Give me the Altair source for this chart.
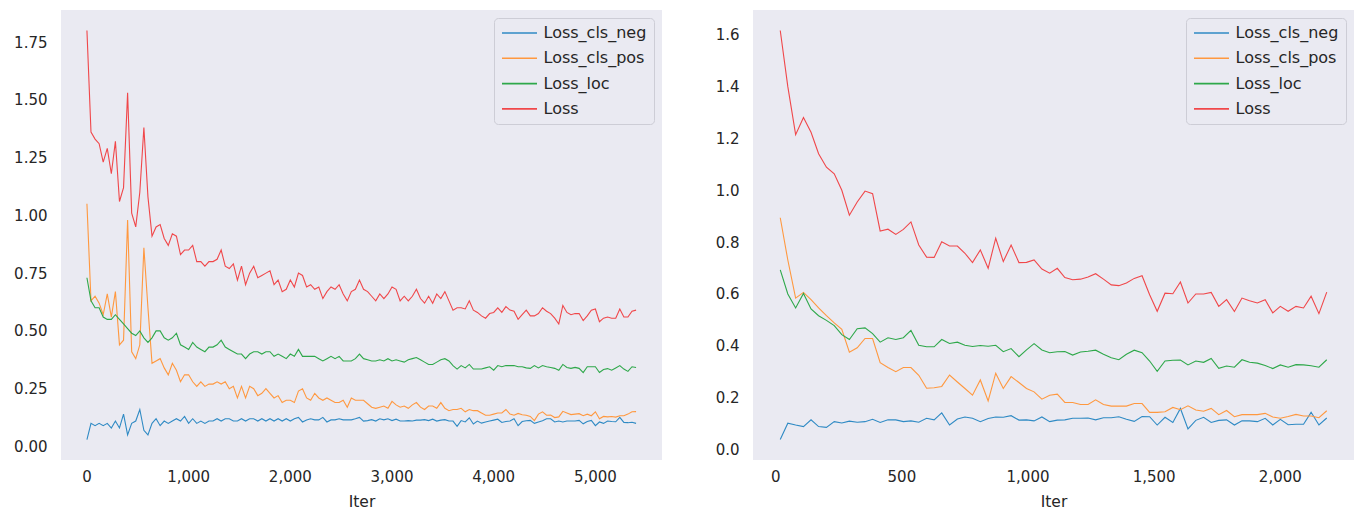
import altair as alt
import pandas as pd

series_names = ["Loss_cls_neg", "Loss_cls_pos", "Loss_loc", "Loss"]
series_colors = ["#2f8ac4", "#ff983f", "#2ea84a", "#f0474a"]

# ---------------- left panel (longer run) ----------------
left_iter = [5 + 40 * i for i in range(136)]

left_neg = [
    0.03, 0.10, 0.09, 0.10, 0.09, 0.10, 0.08, 0.11, 0.08, 0.14, 0.05, 0.10, 0.11, 0.16, 0.07, 0.05,
    0.10, 0.12, 0.09, 0.11, 0.10, 0.11, 0.12, 0.11, 0.13, 0.10, 0.12, 0.10, 0.11, 0.10, 0.11, 0.11,
    0.12, 0.11, 0.12, 0.12, 0.11, 0.11, 0.12, 0.11, 0.12, 0.12, 0.11, 0.12, 0.11, 0.12, 0.11, 0.12,
    0.11, 0.12, 0.11, 0.12, 0.126, 0.106, 0.115, 0.12, 0.115, 0.115, 0.126, 0.106, 0.115, 0.115, 0.12,
    0.115, 0.115, 0.115, 0.12, 0.126, 0.11,
    0.112, 0.116, 0.11, 0.12, 0.115, 0.12, 0.112, 0.118, 0.11, 0.11, 0.112, 0.11, 0.114, 0.114, 0.116,
    0.112, 0.118, 0.11, 0.114, 0.116, 0.11, 0.11, 0.087, 0.112, 0.106, 0.124, 0.097, 0.11, 0.101, 0.106,
    0.11, 0.114, 0.118, 0.104, 0.108, 0.11, 0.12,
    0.09, 0.108, 0.111, 0.113, 0.10, 0.106, 0.111, 0.12, 0.12, 0.106, 0.11, 0.106, 0.11, 0.11, 0.11,
    0.113, 0.098, 0.108, 0.113, 0.09, 0.106, 0.10, 0.11, 0.108, 0.107, 0.126, 0.104, 0.103, 0.105, 0.10,
]
left_pos = [
    1.05, 0.63, 0.65, 0.62, 0.57, 0.66, 0.56, 0.67, 0.44, 0.46, 0.98, 0.41, 0.38, 0.44, 0.86, 0.60,
    0.36, 0.37, 0.38, 0.34, 0.31, 0.36, 0.33, 0.28, 0.31, 0.31, 0.28, 0.26, 0.28, 0.26, 0.27, 0.27,
    0.28, 0.27, 0.28, 0.25, 0.26, 0.21, 0.26, 0.21, 0.26, 0.25, 0.22, 0.23, 0.25, 0.23, 0.21, 0.22,
    0.19, 0.20, 0.20, 0.19, 0.24, 0.25, 0.21, 0.20, 0.23, 0.21, 0.20, 0.21, 0.20, 0.19, 0.19, 0.20,
    0.17, 0.21, 0.20, 0.20, 0.20,
    0.185, 0.17, 0.165, 0.17, 0.175, 0.165, 0.195, 0.18, 0.17, 0.175, 0.165, 0.18, 0.19, 0.17, 0.16,
    0.175, 0.175, 0.165, 0.19, 0.165, 0.155, 0.16, 0.16, 0.165, 0.15, 0.16, 0.155, 0.155, 0.145, 0.135,
    0.135, 0.14, 0.145, 0.145, 0.16, 0.14, 0.135,
    0.143, 0.137, 0.135, 0.13, 0.112, 0.14, 0.15, 0.135, 0.136, 0.125, 0.128, 0.152, 0.145, 0.138, 0.14,
    0.142, 0.133, 0.14, 0.133, 0.15, 0.12, 0.13, 0.128, 0.13, 0.127, 0.133, 0.133, 0.14, 0.15, 0.151,
]
left_loc = [
    0.73, 0.63, 0.60, 0.60, 0.56, 0.55, 0.55, 0.57, 0.55, 0.53, 0.51, 0.49, 0.48, 0.50, 0.47, 0.45,
    0.47, 0.50, 0.50, 0.47, 0.46, 0.47, 0.49, 0.44, 0.43, 0.42, 0.45, 0.43, 0.42, 0.41, 0.43, 0.43,
    0.44, 0.46, 0.43, 0.42, 0.41, 0.40, 0.40, 0.38, 0.40, 0.41, 0.41, 0.40, 0.41, 0.41, 0.39, 0.40,
    0.39, 0.38, 0.40, 0.39, 0.42, 0.39, 0.39, 0.39, 0.39, 0.38, 0.37, 0.38, 0.39, 0.38, 0.39, 0.37,
    0.37, 0.37, 0.38, 0.40, 0.38,
    0.375, 0.37, 0.37, 0.375, 0.37, 0.38, 0.37, 0.375, 0.37, 0.365, 0.375, 0.38, 0.385, 0.375, 0.365,
    0.355, 0.355, 0.365, 0.375, 0.38, 0.37, 0.35, 0.335, 0.35, 0.34, 0.355, 0.335, 0.335, 0.335, 0.34,
    0.345, 0.33, 0.35, 0.345, 0.35, 0.35, 0.35,
    0.345, 0.345, 0.34, 0.338, 0.35, 0.34, 0.35, 0.345, 0.342, 0.338, 0.33, 0.355, 0.342, 0.338, 0.342,
    0.338, 0.32, 0.345, 0.345, 0.345, 0.32, 0.333, 0.337, 0.33, 0.34, 0.35, 0.335, 0.325, 0.345, 0.342,
]
left_loss = [
    1.80, 1.36, 1.33, 1.31, 1.23, 1.29, 1.18, 1.32, 1.06, 1.12, 1.53, 1.01, 0.95, 1.10, 1.38, 1.08,
    0.91, 0.95, 0.96, 0.90, 0.87, 0.92, 0.91, 0.83, 0.85, 0.85, 0.87, 0.80, 0.80, 0.78, 0.80, 0.80,
    0.81, 0.85, 0.78, 0.77, 0.79, 0.72, 0.78, 0.70, 0.75, 0.78, 0.73, 0.74, 0.75, 0.76, 0.70, 0.72,
    0.67, 0.68, 0.72, 0.69, 0.75, 0.74, 0.69, 0.70, 0.68, 0.69, 0.64, 0.67, 0.69, 0.68, 0.70, 0.66,
    0.63, 0.67, 0.68, 0.72, 0.68,
    0.67, 0.65, 0.63, 0.66, 0.64, 0.66, 0.69, 0.68, 0.63, 0.65, 0.63, 0.65, 0.68, 0.64, 0.62, 0.65,
    0.62, 0.66, 0.64, 0.67, 0.63, 0.59, 0.60, 0.60, 0.595, 0.63, 0.59, 0.58, 0.565, 0.555, 0.575, 0.58,
    0.60, 0.58, 0.605, 0.59, 0.585,
    0.55, 0.57, 0.59, 0.565, 0.565, 0.575, 0.60, 0.585, 0.575, 0.555, 0.53, 0.61, 0.58, 0.57, 0.575,
    0.575, 0.545, 0.565, 0.59, 0.595, 0.54, 0.555, 0.56, 0.555, 0.555, 0.595, 0.56, 0.56, 0.585, 0.59,
]

# ---------------- right panel (shorter run) ----------------
right_iter = [round(20 + 30.5 * i) for i in range(72)]

right_neg = [
    0.038, 0.101, 0.094, 0.088, 0.114, 0.088, 0.085, 0.107, 0.102, 0.109, 0.105, 0.107, 0.116, 0.104,
    0.114, 0.114, 0.107, 0.110, 0.105, 0.120, 0.114, 0.141, 0.094, 0.117, 0.125, 0.120, 0.107, 0.119,
    0.125, 0.124, 0.130, 0.113, 0.114, 0.110, 0.125, 0.107, 0.113,
    0.114, 0.120, 0.120, 0.121, 0.114, 0.122, 0.122, 0.126, 0.116, 0.108, 0.127, 0.126, 0.094, 0.124,
    0.104, 0.158, 0.079, 0.112, 0.124, 0.104, 0.112, 0.114, 0.094, 0.110, 0.110, 0.107, 0.120, 0.094,
    0.116, 0.095, 0.097, 0.097, 0.143, 0.094, 0.121,
]
right_pos = [
    0.894, 0.731, 0.584, 0.606, 0.578, 0.546, 0.516, 0.488, 0.463, 0.375, 0.392, 0.428, 0.428, 0.335,
    0.316, 0.300, 0.316, 0.316, 0.286, 0.236, 0.238, 0.243, 0.287, 0.260, 0.235, 0.209, 0.268, 0.187,
    0.294, 0.235, 0.281, 0.258, 0.235, 0.222, 0.194, 0.209, 0.213,
    0.181, 0.181, 0.173, 0.173, 0.191, 0.173, 0.167, 0.167, 0.167, 0.177, 0.177, 0.143, 0.143, 0.145,
    0.162, 0.153, 0.168, 0.152, 0.147, 0.158, 0.134, 0.150, 0.126, 0.134, 0.134, 0.134, 0.139, 0.125,
    0.120, 0.127, 0.135, 0.129, 0.129, 0.122, 0.149,
]
right_loc = [
    0.693, 0.600, 0.546, 0.602, 0.542, 0.516, 0.498, 0.478, 0.443, 0.424, 0.466, 0.469, 0.447, 0.414,
    0.431, 0.424, 0.431, 0.459, 0.402, 0.396, 0.396, 0.424, 0.409, 0.414, 0.402, 0.397, 0.401, 0.398,
    0.402, 0.377, 0.389, 0.358, 0.384, 0.408, 0.384, 0.373, 0.377,
    0.378, 0.364, 0.376, 0.379, 0.383, 0.367, 0.354, 0.346, 0.367, 0.383, 0.373, 0.341, 0.301, 0.341,
    0.344, 0.345, 0.326, 0.341, 0.336, 0.351, 0.313, 0.322, 0.317, 0.346, 0.336, 0.333, 0.324, 0.312,
    0.326, 0.317, 0.327, 0.326, 0.323, 0.317, 0.346,
]
right_loss = [
    1.617, 1.40, 1.215, 1.281, 1.224, 1.141, 1.089, 1.064, 1.0, 0.904, 0.955, 0.997, 0.987, 0.843,
    0.850, 0.830, 0.849, 0.878, 0.789, 0.742, 0.741, 0.801, 0.785, 0.785, 0.757, 0.721, 0.770, 0.699,
    0.815, 0.725, 0.789, 0.721, 0.722, 0.731, 0.696, 0.680, 0.699,
    0.663, 0.655, 0.657, 0.665, 0.678, 0.657, 0.635, 0.632, 0.642, 0.660, 0.670, 0.597, 0.533, 0.603,
    0.601, 0.646, 0.565, 0.600, 0.600, 0.606, 0.552, 0.578, 0.532, 0.584, 0.574, 0.565, 0.578, 0.527,
    0.552, 0.533, 0.552, 0.546, 0.591, 0.524, 0.607,
]

left_xticks = [0, 1000, 2000, 3000, 4000, 5000]
left_yticks = [0.0, 0.25, 0.5, 0.75, 1.0, 1.25, 1.5, 1.75]
right_xticks = [0, 500, 1000, 1500, 2000]
right_yticks = [0.0, 0.2, 0.4, 0.6, 0.8, 1.0, 1.2, 1.4, 1.6]


def to_long(iters, neg, pos, loc, loss):
    rows = []
    for name, vals in zip(series_names, [neg, pos, loc, loss]):
        assert len(vals) == len(iters), (name, len(vals), len(iters))
        for k, (it, v) in enumerate(zip(iters, vals)):
            rows.append({"Iter": it, "value": v, "series": name, "k": k})
    return pd.DataFrame(rows)


left_df = to_long(left_iter, left_neg, left_pos, left_loc, left_loss)
right_df = to_long(right_iter, right_neg, right_pos, right_loc, right_loss)

FONT = "DejaVu Sans"
TXT = "#262626"


def panel(df, xdom, xticks, ydom, yticks, yfmt, w):
    return (
        alt.Chart(df)
        .mark_line(strokeWidth=1.1, clip=True)
        .encode(
            x=alt.X(
                "Iter:Q",
                scale=alt.Scale(domain=xdom, nice=False, zero=False),
                axis=alt.Axis(values=xticks, format=",d", title="Iter"),
            ),
            y=alt.Y(
                "value:Q",
                scale=alt.Scale(domain=ydom, nice=False, zero=False),
                axis=alt.Axis(values=yticks, format=yfmt, title=None),
            ),
            color=alt.Color(
                "series:N",
                scale=alt.Scale(domain=series_names, range=series_colors),
                legend=alt.Legend(
                    title=None,
                    orient="top-right",
                    offset=8,
                    fillColor="#EAEAF2",
                    strokeColor="#cdcdd6",
                    cornerRadius=4,
                    padding=7,
                    symbolType="M-2.5,0L2.5,0",
                    symbolSize=196,
                    symbolStrokeWidth=1.6,
                    symbolOffset=10.5,
                    labelFontSize=16,
                    labelFont=FONT,
                    labelColor=TXT,
                    labelOffset=16,
                    rowPadding=9.3,
                ),
            ),
            order=alt.Order("k:Q"),
        )
        .properties(width=w, height=450)
    )


left = panel(left_df, [-250, 5660], left_xticks, [-0.0585, 1.8885], left_yticks, ".2f", 601)
right = panel(right_df, [-88, 2294], right_xticks, [-0.041, 1.696], right_yticks, ".1f", 601)

chart = (
    alt.hconcat(left, right, spacing=38)
    .resolve_scale(x="independent", y="independent", color="independent")
    .resolve_legend(color="independent")
    .properties(padding={"left": 0, "top": 2, "right": 0, "bottom": 0})
    .configure_view(fill="#EAEAF2", stroke=None)
    .configure_axis(
        domain=False,
        ticks=False,
        grid=False,
        labelFont=FONT,
        labelFontSize=15,
        labelColor=TXT,
        titleFont=FONT,
        titleFontSize=15.5,
        titleFontWeight="normal",
        titleColor=TXT,
    )
    .configure_axisY(labelPadding=14, minExtent=53, maxExtent=53)
    .configure_axisX(labelPadding=9, titlePadding=10)
)

chart.save("out.html", embed_options={"renderer": "svg", "actions": False})
